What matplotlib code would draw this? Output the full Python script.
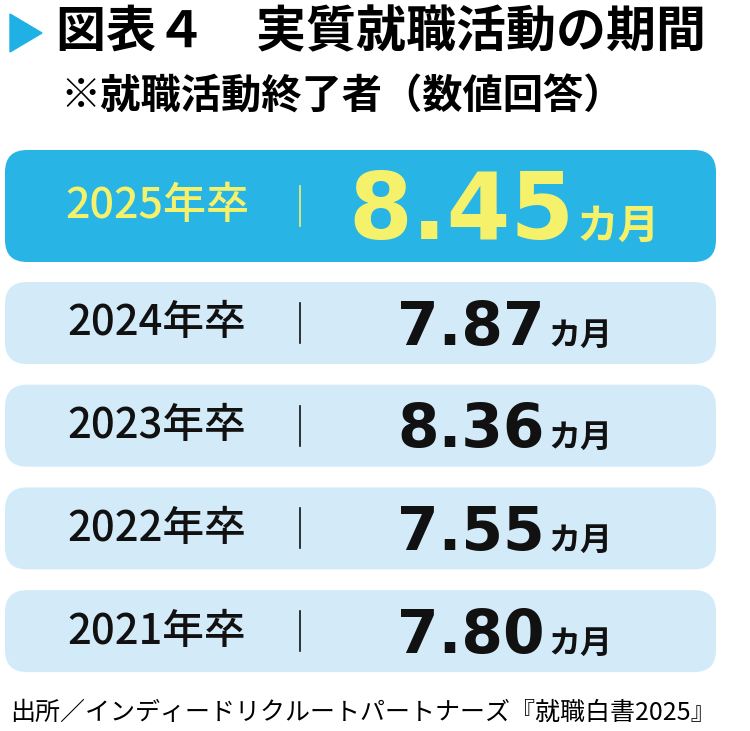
import matplotlib
matplotlib.use("Agg")
import matplotlib.pyplot as plt
from matplotlib.patches import FancyBboxPatch, Polygon

plt.rcParams['font.family'] = ['Noto Sans CJK JP', 'DejaVu Sans']

title = "図表４　実質就職活動の期間"
subtitle = "※就職活動終了者（数値回答）"
years = ["2025年卒", "2024年卒", "2023年卒", "2022年卒", "2021年卒"]
values = [8.45, 7.87, 8.36, 7.55, 7.80]
unit = "カ月"
source = "出所／インディードリクルートパートナーズ『就職白書2025』"

fig = plt.figure(figsize=(7.5, 7.31), dpi=100)
ax = fig.add_axes([0, 0, 1, 1])
ax.set_xlim(0, 750); ax.set_ylim(731, 0); ax.axis('off')

ax.add_patch(Polygon([[10, 14], [10, 52], [42, 33]], color='#1fb1e6'))
ax.text(56, 33, title, fontsize=36, fontweight='bold', va='center', ha='left')
ax.text(60, 97, subtitle, fontsize=29, fontweight='bold', va='center', ha='left')

for i, (y, v) in enumerate(zip(years, values)):
    if i == 0:
        top, h = 150, 112
        fc, tc = '#29b4e6', '#f6f16a'
        lfs, vfs, ufs, vx = 31, 66, 30, 574
    else:
        top, h = 282 + (i - 1) * 102.7, 82
        fc, tc = '#d3ebf9', '#111111'
        lfs, vfs, ufs, vx = 30, 43, 23, 545
    ax.add_patch(FancyBboxPatch((5, top), 711, h, boxstyle="round,pad=0,rounding_size=22",
                                fc=fc, ec='none'))
    cy = top + h / 2
    ax.text(157, cy, y, fontsize=lfs, fontweight='medium', color=tc, ha='center', va='center')
    ax.plot([300, 300], [cy - 20, cy + 20], color=tc, lw=1.2)
    base = cy + (0.36 * vfs * 100 / 72)
    ax.text(vx, base, f"{v:.2f}", fontsize=vfs, fontweight='black', color=tc,
            ha='right', va='baseline', family=['DejaVu Sans'])
    ax.text(vx + 3, base, unit, fontsize=ufs, fontweight='bold', color=tc,
            ha='left', va='baseline')

ax.text(10, 713, source, fontsize=18, va='center', ha='left')
fig.savefig("out.png", dpi=100)
